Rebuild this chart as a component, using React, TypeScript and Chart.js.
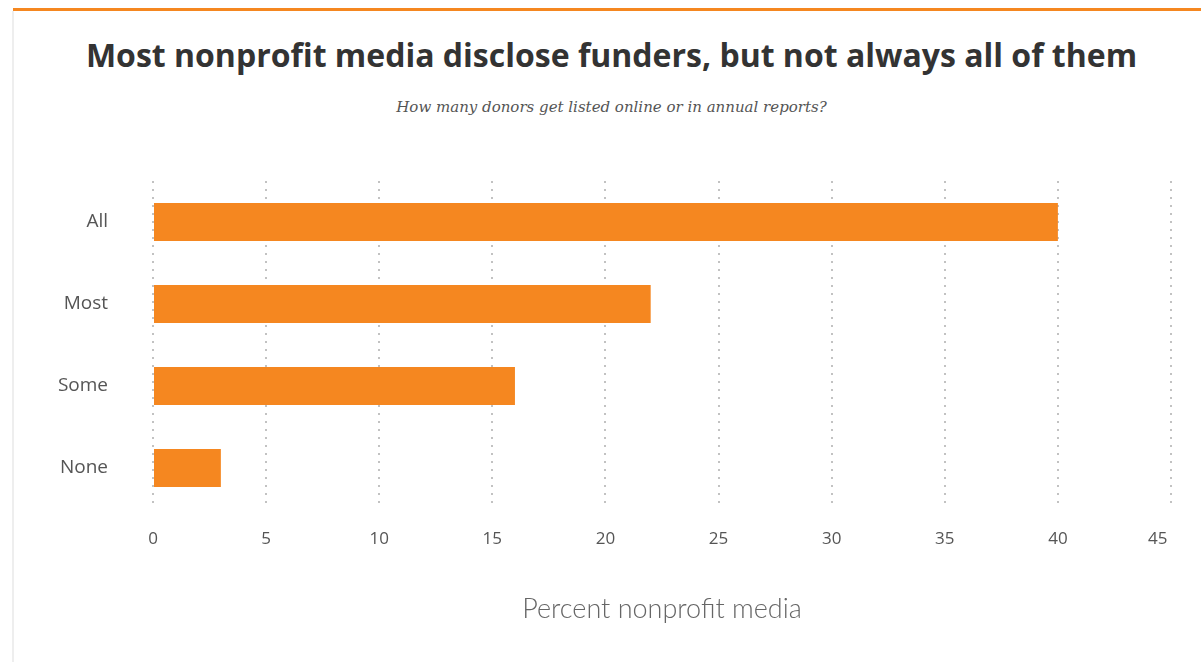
import React, { useEffect, useRef } from "react";
import { Chart, registerables } from "chart.js";

Chart.register(...registerables);

const categories = ["All", "Most", "Some", "None"];
const percentValues = [40, 22, 16, 3];
const xTickMax = 45;
const xTickStep = 5;
const titleText = "Most nonprofit media disclose funders, but not always all of them";
const subtitleText = "How many donors get listed online or in annual reports?";
const xAxisTitle = "Percent nonprofit media";

export default function App() {
  const canvasRef = useRef<HTMLCanvasElement | null>(null);

  useEffect(() => {
    const canvas = canvasRef.current;
    if (!canvas) return;
    const chart = new Chart(canvas, {
      type: "bar",
      data: {
        labels: categories,
        datasets: [
          {
            data: percentValues,
            backgroundColor: "#F58720",
            borderWidth: 0,
            barPercentage: 0.463,
            categoryPercentage: 1,
          },
        ],
      },
      options: {
        indexAxis: "y",
        animation: false,
        responsive: false,
        maintainAspectRatio: false,
        layout: { padding: { left: 0, right: 30, top: 51, bottom: 0 } },
        plugins: {
          legend: { display: false },
          tooltip: { enabled: false },
          title: { display: false },
        },
        scales: {
          x: {
            min: 0,
            max: xTickMax,
            ticks: {
              stepSize: xTickStep,
              color: "#555",
              padding: 20,
              font: { family: "Open Sans", size: 17 },
              // keep the last label inside the frame, as in the reference
              callback: (v: any) => (Number(v) === xTickMax ? String(v) + "      " : String(v)),
            },
            grid: {
              drawTicks: false,
              color: "#c2c2c2",
              lineWidth: 2,
            },
            border: { display: false, dash: [2, 6] },
            title: {
              display: true,
              text: xAxisTitle,
              color: "#666",
              font: { family: "Lato", size: 27, weight: "300" },
              padding: { top: 0, bottom: 37 },
            },
            afterFit: (s: any) => {
              s.height = 153;
              s.paddingLeft = 0;
              s.paddingRight = 0;
            },
          },
          y: {
            ticks: {
              color: "#555",
              padding: 45,
              font: { family: "Open Sans", size: 19 },
            },
            grid: { display: false, drawTicks: false },
            border: { display: false },
            afterFit: (s: any) => {
              s.width = 153;
              s.paddingTop = 0;
              s.paddingBottom = 0;
            },
          },
        },
      },
    });
    return () => chart.destroy();
  }, []);

  return (
    <div
      style={{
        position: "fixed",
        left: 0,
        top: 0,
        width: 1201,
        height: 662,
        overflow: "hidden",
        background: "#fff",
      }}
    >
      <div
        style={{
          position: "absolute",
          left: 13,
          top: 8,
          width: 1188,
          height: 3,
          background: "#F58720",
        }}
      />
      <div
        style={{
          position: "absolute",
          left: 12,
          top: 11,
          width: 2,
          height: 651,
          background: "#eeeeee",
        }}
      />
      <div
        style={{
          position: "absolute",
          left: 22,
          top: 32,
          width: 1179,
          textAlign: "center",
          fontFamily: "Open Sans",
          fontWeight: 700,
          fontSize: 32,
          color: "#333",
          lineHeight: "46px",
          whiteSpace: "nowrap",
        }}
      >
        {titleText}
      </div>
      <div
        style={{
          position: "absolute",
          left: 22,
          top: 96,
          width: 1179,
          textAlign: "center",
          fontFamily: "DejaVu Serif",
          fontStyle: "italic",
          fontSize: 15,
          color: "#555",
          lineHeight: "22px",
          whiteSpace: "nowrap",
        }}
      >
        {subtitleText}
      </div>
      <canvas
        ref={canvasRef}
        width={1201}
        height={532}
        style={{ position: "absolute", left: 0, top: 130, width: 1201, height: 532 }}
      />
    </div>
  );
}
